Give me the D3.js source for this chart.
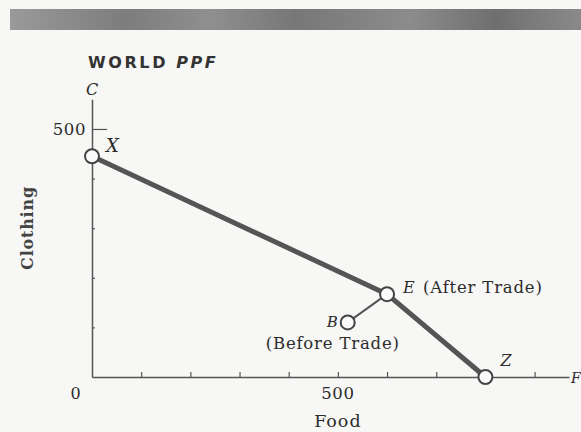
<!DOCTYPE html>
<html><head><meta charset="utf-8">
<script src="https://cdn.jsdelivr.net/npm/d3@7"></script>
<style>html,body{margin:0;padding:0;background:#f7f7f5;}svg{display:block;}</style>
</head><body>
<script>
// Data
const ppfNames = ["X", "E", "Z"];
const ppfFood = [0, 600, 800];
const ppfClothing = [445, 167, 0];
const beforeName = "B";
const beforeFood = 520;
const beforeClothing = 110;
const xTicks = [100, 200, 300, 400, 500, 600, 700, 800, 900];
const yTicks = [100, 200, 300, 400, 500];
const labeledTick = 500;

const W = 581, H = 432;
const svg = d3.select("body").append("svg").attr("width", W).attr("height", H);
svg.append("rect").attr("width", W).attr("height", H).attr("fill", "#f7f7f5");

// scanned header band
const defs = svg.append("defs");
const g1 = defs.append("linearGradient").attr("id", "band");
[[0,"#9a9a9a"],[0.2,"#7d7d7d"],[0.35,"#8f8f8f"],[0.5,"#777"],[0.7,"#8c8c8c"],[0.85,"#6f6f6f"],[1,"#8a8a8a"]]
  .forEach(([o,c]) => g1.append("stop").attr("offset", o).attr("stop-color", c));
svg.append("rect").attr("x", 10).attr("y", 9).attr("width", 571).attr("height", 21).attr("fill", "url(#band)");

const x = d3.scaleLinear().domain([0, 970]).range([92, 569]);
const y = d3.scaleLinear().domain([0, 560]).range([377, 99.2]);

const axisColor = "#555";
// x axis
const gx = svg.append("g").attr("transform", `translate(0,${y(0)})`)
  .call(d3.axisBottom(x).tickValues(xTicks).tickSizeInner(-5).tickSizeOuter(0).tickFormat(""));
gx.select(".domain").attr("stroke", axisColor).attr("stroke-width", 1.5);
gx.selectAll(".tick line").attr("stroke", axisColor).attr("stroke-width", 1.2);
// y axis
const gy = svg.append("g").attr("transform", `translate(${x(0)},0)`)
  .call(d3.axisLeft(y).tickValues(yTicks).tickSizeInner(-3).tickSizeOuter(0).tickFormat(""));
gy.select(".domain").attr("stroke", axisColor).attr("stroke-width", 1.5);
gy.selectAll(".tick line").attr("stroke", axisColor).attr("stroke-width", 1.2)
  .attr("x2", d => d === labeledTick ? 15 : 3);

const serif = "'DejaVu Serif','Liberation Serif',serif";
const txt = "#2b2b2b";
function label(px, py, s, opts = {}) {
  return svg.append("text").attr("x", px).attr("y", py).text(s)
    .attr("font-family", serif).attr("font-size", opts.size || 16)
    .attr("font-style", opts.italic ? "italic" : "normal")
    .attr("font-weight", opts.bold ? "bold" : "normal")
    .attr("letter-spacing", opts.ls == null ? 0.6 : opts.ls)
    .attr("text-anchor", opts.anchor || "start").attr("fill", txt);
}

// tick labels
label(x(0) - 6, y(labeledTick) + 6, String(labeledTick), {anchor: "end", size: 16.5});
label(x(labeledTick), 399, String(labeledTick), {anchor: "middle", size: 16.5});
label(76, 399, "0", {anchor: "middle", size: 16});
label(x(0), 95, "C", {anchor: "middle", italic: true, size: 16, ls: 0});
label(571, 383, "F", {anchor: "start", italic: true, size: 14, ls: 0});

// axis titles
label(x(labeledTick), 427, "Food", {anchor: "middle", size: 17.5, ls: 1});
svg.append("text").attr("transform", `translate(33,228) rotate(-90)`).text("Clothing")
  .attr("font-family", serif).attr("font-size", 16).attr("font-weight", "bold")
  .attr("letter-spacing", 0.8)
  .attr("text-anchor", "middle").attr("fill", "#444");

// title
const t = svg.append("text").attr("x", 88).attr("y", 68)
  .attr("font-family", "'DejaVu Sans',sans-serif").attr("font-size", 16).attr("font-weight", "bold")
  .attr("letter-spacing", 2.6).attr("fill", "#333");
t.append("tspan").text("WORLD ");
t.append("tspan").text("PPF").attr("font-style", "italic");

// B to E connector
const eIdx = ppfNames.indexOf("E");
svg.append("line").attr("x1", x(beforeFood)).attr("y1", y(beforeClothing))
  .attr("x2", x(ppfFood[eIdx])).attr("y2", y(ppfClothing[eIdx]))
  .attr("stroke", "#555").attr("stroke-width", 2);

// PPF line
const pts = ppfFood.map((f, i) => [f, ppfClothing[i]]);
svg.append("path").datum(pts)
  .attr("d", d3.line().x(d => x(d[0])).y(d => y(d[1])))
  .attr("fill", "none").attr("stroke", "#555").attr("stroke-width", 5).attr("stroke-linejoin", "round");

// points
const allPts = pts.concat([[beforeFood, beforeClothing]]);
svg.selectAll("circle.pt").data(allPts).enter().append("circle")
  .attr("cx", d => x(d[0])).attr("cy", d => y(d[1])).attr("r", 7)
  .attr("fill", "#fafafa").attr("stroke", "#444").attr("stroke-width", 2);

// point labels
label(x(ppfFood[0]) + 14, y(ppfClothing[0]) - 4, "X", {italic: true, size: 18, ls: 0});
label(x(ppfFood[1]) + 16, y(ppfClothing[1]) - 1, "E", {italic: true, size: 16, ls: 0});
label(x(ppfFood[1]) + 36, y(ppfClothing[1]) - 1, "(After Trade)", {size: 16.5, ls: 0.8});
label(x(ppfFood[2]) + 15, y(ppfClothing[2]) - 11, "Z", {italic: true, size: 16, ls: 0});
label(x(beforeFood) - 10, y(beforeClothing) + 5, beforeName, {italic: true, size: 15, anchor: "end", ls: 0});
label(x(beforeFood) - 15, y(beforeClothing) + 27, "(Before Trade)", {size: 16.5, anchor: "middle", ls: 0.8});
</script>
</body></html>
